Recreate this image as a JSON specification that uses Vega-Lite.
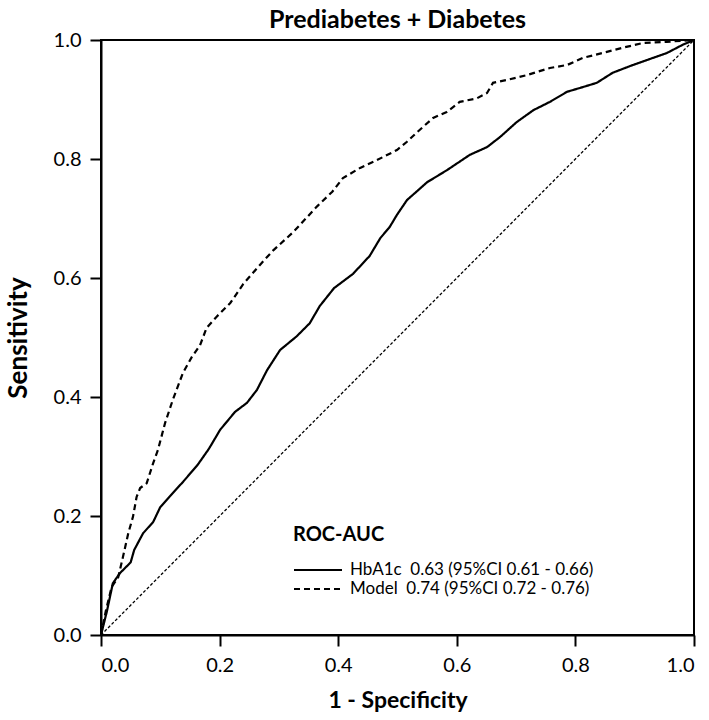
{
  "$schema": "https://vega.github.io/schema/vega-lite/v6.json",
  "width": 593,
  "height": 595,
  "autosize": "none",
  "padding": {"left": 101, "top": 40, "right": 15, "bottom": 85},
  "background": "white",
  "config": {
    "font": "Lato",
    "view": {"stroke": "black", "strokeWidth": 2},
    "axis": {
      "grid": false,
      "domainColor": "black",
      "domainWidth": 2,
      "tickColor": "black",
      "tickWidth": 2,
      "tickSize": 11,
      "labelFont": "Lato",
      "labelFontSize": 20,
      "labelColor": "black",
      "labelPadding": 9,
      "titleFont": "Lato",
      "titleFontSize": 23,
      "titleFontWeight": "bold",
      "titleColor": "black"
    }
  },
  "title": {
    "text": "Prediabetes + Diabetes",
    "font": "Lato",
    "fontSize": 25,
    "fontWeight": "bold",
    "color": "black",
    "anchor": "middle",
    "offset": -3
  },
  "datasets": {
    "roc": [
      {"fpr": 0, "tpr": 0, "series": "HbA1c"},
      {"fpr": 0.01, "tpr": 0.04, "series": "HbA1c"},
      {"fpr": 0.02, "tpr": 0.087, "series": "HbA1c"},
      {"fpr": 0.032, "tpr": 0.104, "series": "HbA1c"},
      {"fpr": 0.05, "tpr": 0.122, "series": "HbA1c"},
      {"fpr": 0.056, "tpr": 0.143, "series": "HbA1c"},
      {"fpr": 0.071, "tpr": 0.171, "series": "HbA1c"},
      {"fpr": 0.088, "tpr": 0.19, "series": "HbA1c"},
      {"fpr": 0.1, "tpr": 0.215, "series": "HbA1c"},
      {"fpr": 0.116, "tpr": 0.233, "series": "HbA1c"},
      {"fpr": 0.138, "tpr": 0.257, "series": "HbA1c"},
      {"fpr": 0.163, "tpr": 0.286, "series": "HbA1c"},
      {"fpr": 0.182, "tpr": 0.313, "series": "HbA1c"},
      {"fpr": 0.201, "tpr": 0.345, "series": "HbA1c"},
      {"fpr": 0.226, "tpr": 0.375, "series": "HbA1c"},
      {"fpr": 0.246, "tpr": 0.39, "series": "HbA1c"},
      {"fpr": 0.263, "tpr": 0.412, "series": "HbA1c"},
      {"fpr": 0.28, "tpr": 0.445, "series": "HbA1c"},
      {"fpr": 0.302, "tpr": 0.479, "series": "HbA1c"},
      {"fpr": 0.33, "tpr": 0.502, "series": "HbA1c"},
      {"fpr": 0.352, "tpr": 0.524, "series": "HbA1c"},
      {"fpr": 0.369, "tpr": 0.553, "series": "HbA1c"},
      {"fpr": 0.393, "tpr": 0.583, "series": "HbA1c"},
      {"fpr": 0.425, "tpr": 0.607, "series": "HbA1c"},
      {"fpr": 0.453, "tpr": 0.637, "series": "HbA1c"},
      {"fpr": 0.471, "tpr": 0.667, "series": "HbA1c"},
      {"fpr": 0.487, "tpr": 0.686, "series": "HbA1c"},
      {"fpr": 0.499, "tpr": 0.706, "series": "HbA1c"},
      {"fpr": 0.516, "tpr": 0.731, "series": "HbA1c"},
      {"fpr": 0.55, "tpr": 0.761, "series": "HbA1c"},
      {"fpr": 0.583, "tpr": 0.781, "series": "HbA1c"},
      {"fpr": 0.622, "tpr": 0.807, "series": "HbA1c"},
      {"fpr": 0.651, "tpr": 0.82, "series": "HbA1c"},
      {"fpr": 0.673, "tpr": 0.837, "series": "HbA1c"},
      {"fpr": 0.701, "tpr": 0.862, "series": "HbA1c"},
      {"fpr": 0.729, "tpr": 0.882, "series": "HbA1c"},
      {"fpr": 0.757, "tpr": 0.896, "series": "HbA1c"},
      {"fpr": 0.786, "tpr": 0.913, "series": "HbA1c"},
      {"fpr": 0.813, "tpr": 0.921, "series": "HbA1c"},
      {"fpr": 0.836, "tpr": 0.928, "series": "HbA1c"},
      {"fpr": 0.863, "tpr": 0.945, "series": "HbA1c"},
      {"fpr": 0.897, "tpr": 0.958, "series": "HbA1c"},
      {"fpr": 0.931, "tpr": 0.97, "series": "HbA1c"},
      {"fpr": 0.954, "tpr": 0.978, "series": "HbA1c"},
      {"fpr": 0.981, "tpr": 0.992, "series": "HbA1c"},
      {"fpr": 1, "tpr": 1, "series": "HbA1c"},
      {"fpr": 0, "tpr": 0, "series": "Model"},
      {"fpr": 0.008, "tpr": 0.04, "series": "Model"},
      {"fpr": 0.018, "tpr": 0.081, "series": "Model"},
      {"fpr": 0.029, "tpr": 0.097, "series": "Model"},
      {"fpr": 0.037, "tpr": 0.131, "series": "Model"},
      {"fpr": 0.046, "tpr": 0.171, "series": "Model"},
      {"fpr": 0.054, "tpr": 0.199, "series": "Model"},
      {"fpr": 0.06, "tpr": 0.232, "series": "Model"},
      {"fpr": 0.066, "tpr": 0.247, "series": "Model"},
      {"fpr": 0.077, "tpr": 0.255, "series": "Model"},
      {"fpr": 0.088, "tpr": 0.289, "series": "Model"},
      {"fpr": 0.096, "tpr": 0.311, "series": "Model"},
      {"fpr": 0.108, "tpr": 0.356, "series": "Model"},
      {"fpr": 0.121, "tpr": 0.395, "series": "Model"},
      {"fpr": 0.138, "tpr": 0.44, "series": "Model"},
      {"fpr": 0.153, "tpr": 0.467, "series": "Model"},
      {"fpr": 0.167, "tpr": 0.487, "series": "Model"},
      {"fpr": 0.178, "tpr": 0.516, "series": "Model"},
      {"fpr": 0.195, "tpr": 0.535, "series": "Model"},
      {"fpr": 0.218, "tpr": 0.558, "series": "Model"},
      {"fpr": 0.24, "tpr": 0.59, "series": "Model"},
      {"fpr": 0.268, "tpr": 0.622, "series": "Model"},
      {"fpr": 0.29, "tpr": 0.646, "series": "Model"},
      {"fpr": 0.324, "tpr": 0.677, "series": "Model"},
      {"fpr": 0.364, "tpr": 0.72, "series": "Model"},
      {"fpr": 0.39, "tpr": 0.745, "series": "Model"},
      {"fpr": 0.408, "tpr": 0.768, "series": "Model"},
      {"fpr": 0.437, "tpr": 0.785, "series": "Model"},
      {"fpr": 0.465, "tpr": 0.798, "series": "Model"},
      {"fpr": 0.499, "tpr": 0.815, "series": "Model"},
      {"fpr": 0.516, "tpr": 0.829, "series": "Model"},
      {"fpr": 0.533, "tpr": 0.845, "series": "Model"},
      {"fpr": 0.56, "tpr": 0.869, "series": "Model"},
      {"fpr": 0.583, "tpr": 0.879, "series": "Model"},
      {"fpr": 0.605, "tpr": 0.896, "series": "Model"},
      {"fpr": 0.634, "tpr": 0.902, "series": "Model"},
      {"fpr": 0.651, "tpr": 0.911, "series": "Model"},
      {"fpr": 0.661, "tpr": 0.928, "series": "Model"},
      {"fpr": 0.685, "tpr": 0.933, "series": "Model"},
      {"fpr": 0.718, "tpr": 0.941, "series": "Model"},
      {"fpr": 0.757, "tpr": 0.953, "series": "Model"},
      {"fpr": 0.786, "tpr": 0.958, "series": "Model"},
      {"fpr": 0.813, "tpr": 0.97, "series": "Model"},
      {"fpr": 0.853, "tpr": 0.98, "series": "Model"},
      {"fpr": 0.88, "tpr": 0.987, "series": "Model"},
      {"fpr": 0.914, "tpr": 0.995, "series": "Model"},
      {"fpr": 0.954, "tpr": 0.997, "series": "Model"},
      {"fpr": 1, "tpr": 1, "series": "Model"}
    ],
    "diag": [
      {"fpr": 0, "tpr": 0},
      {"fpr": 1, "tpr": 1}
    ]
  },
  "layer": [
    {
      "data": {"name": "diag"},
      "mark": {"type": "line", "color": "black", "strokeWidth": 1.3, "strokeDash": [3, 2]},
      "encoding": {
        "x": {"field": "fpr", "type": "quantitative"},
        "y": {"field": "tpr", "type": "quantitative"}
      }
    },
    {
      "data": {"name": "roc"},
      "mark": {"type": "line", "color": "black", "strokeWidth": 2.2},
      "encoding": {
        "x": {
          "field": "fpr",
          "type": "quantitative",
          "title": "1 - Specificity",
          "scale": {"domain": [0, 1], "nice": false, "zero": false},
          "axis": {"values": [0, 0.2, 0.4, 0.6, 0.8, 1.0], "format": ".1f", "titlePadding": 14}
        },
        "y": {
          "field": "tpr",
          "type": "quantitative",
          "title": "Sensitivity",
          "scale": {"domain": [0, 1], "nice": false, "zero": false},
          "axis": {"values": [0, 0.2, 0.4, 0.6, 0.8, 1.0], "format": ".1f", "titlePadding": 22, "titleFontSize": 26}
        },
        "strokeDash": {
          "field": "series",
          "type": "nominal",
          "scale": {"domain": ["HbA1c", "Model"], "range": [[1, 0], [6, 4]]},
          "legend": {
            "title": "ROC-AUC",
            "orient": "none",
            "legendX": 192,
            "legendY": 485,
            "titleFont": "Lato",
            "titleFontSize": 20,
            "titleFontWeight": "bold",
            "titleColor": "black",
            "titlePadding": 14,
            "labelFont": "Lato",
            "labelFontSize": 17,
            "labelColor": "black",
            "labelOffset": 35,
            "labelLimit": 400,
            "symbolType": "M-1,0H3.8",
            "symbolSize": 400,
            "symbolStrokeWidth": 2,
            "symbolStrokeColor": "black",
            "rowPadding": 0,
            "labelExpr": "datum.label == 'HbA1c' ? 'HbA1c\u00a0\u00a00.63 (95%CI 0.61 - 0.66)' : 'Model\u00a0\u00a00.74 (95%CI 0.72 - 0.76)'"
          }
        }
      }
    }
  ]
}
